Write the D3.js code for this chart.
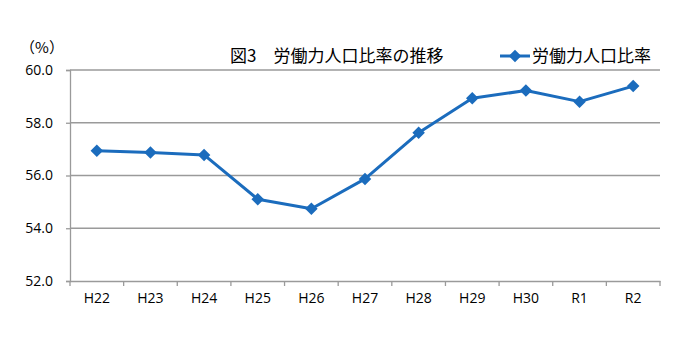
<!DOCTYPE html>
<html><head><meta charset="utf-8">
<script src="https://cdn.jsdelivr.net/npm/d3@7"></script>
<style>body{margin:0;background:#fff;}svg{display:block;}</style>
</head><body><svg id="c" width="700" height="339"></svg>
<script>
const categories = ["H22","H23","H24","H25","H26","H27","H28","H29","H30","R1","R2"];
const values = [56.94,56.87,56.78,55.1,54.74,55.87,57.62,58.93,59.22,58.8,59.39];
const yTicks = [52,54,56,58,60];
const seriesName = "労働力人口比率";
const title = "図3\u3000労働力人口比率の推移";
const unit = "（%）";

const svg = d3.select("#c");
const m = {l:70, r:660, t:70, b:281};
const x = d3.scaleBand().domain(categories).range([m.l, m.r]);
const y = d3.scaleLinear().domain([52,60]).range([m.b, m.t]);
const color = "#1b6cbd";
const grid = "#9a9a9a";
const jp = "'Noto Sans CJK JP', sans-serif";
const num = "'Open Sans', 'Liberation Sans', sans-serif";

// gridlines
svg.append("g").selectAll("line").data(yTicks.filter(d=>d>52)).join("line")
  .attr("x1", m.l).attr("x2", m.r).attr("y1", d=>y(d)).attr("y2", d=>y(d))
  .attr("stroke", grid).attr("stroke-width", 1.3);

// y axis
const ya = svg.append("g").attr("transform", `translate(${m.l},0)`)
  .call(d3.axisLeft(y).tickValues(yTicks).tickFormat(d3.format(".1f")).tickSize(4).tickPadding(13));
ya.select(".domain").attr("stroke", grid).attr("stroke-width", 1.3);
ya.selectAll(".tick line").attr("stroke", grid).attr("stroke-width", 1.3);
ya.selectAll("text").attr("font-family", num).attr("font-size", 14).attr("fill", "#000");

// x axis
const xa = svg.append("g").attr("transform", `translate(0,${m.b})`)
  .call(d3.axisBottom(x).tickSize(0).tickPadding(12));
xa.select(".domain").attr("stroke", grid).attr("stroke-width", 1.3);
xa.selectAll("text").attr("font-family", num).attr("font-size", 14).attr("fill", "#000");
const bounds = categories.map((c)=>x(c)).concat([m.r]);
svg.append("g").selectAll("line").data(bounds).join("line")
  .attr("x1", d=>d).attr("x2", d=>d).attr("y1", m.b).attr("y2", m.b+5)
  .attr("stroke", grid).attr("stroke-width", 1.3);

// unit
svg.append("text").attr("x", 42).attr("y", 53).attr("text-anchor", "middle")
  .attr("font-family", jp).attr("font-size", 15).text(unit);

// line
const cx = d => x(d) + x.bandwidth()/2;
const line = d3.line().x((d,i)=>cx(categories[i])).y(d=>y(d));
svg.append("path").datum(values).attr("d", line).attr("fill","none")
  .attr("stroke", color).attr("stroke-width", 3).attr("stroke-linejoin","round");
const diamond = d3.symbol().type(d3.symbolDiamond2).size(100);
svg.append("g").selectAll("path").data(values).join("path")
  .attr("d", diamond)
  .attr("transform", (d,i)=>`translate(${cx(categories[i])},${y(d)})`)
  .attr("fill", color);

// title
svg.append("text").attr("x", 230).attr("y", 62)
  .attr("font-family", jp).attr("font-size", 17).attr("fill", "#000").text(title);

// legend
svg.append("line").attr("x1", 500).attr("x2", 530).attr("y1", 56).attr("y2", 56)
  .attr("stroke", color).attr("stroke-width", 3);
svg.append("path").attr("d", diamond).attr("transform", "translate(515,56)").attr("fill", color);
svg.append("text").attr("x", 532).attr("y", 62)
  .attr("font-family", jp).attr("font-size", 17).attr("fill", "#000").text(seriesName);
</script></body></html>
